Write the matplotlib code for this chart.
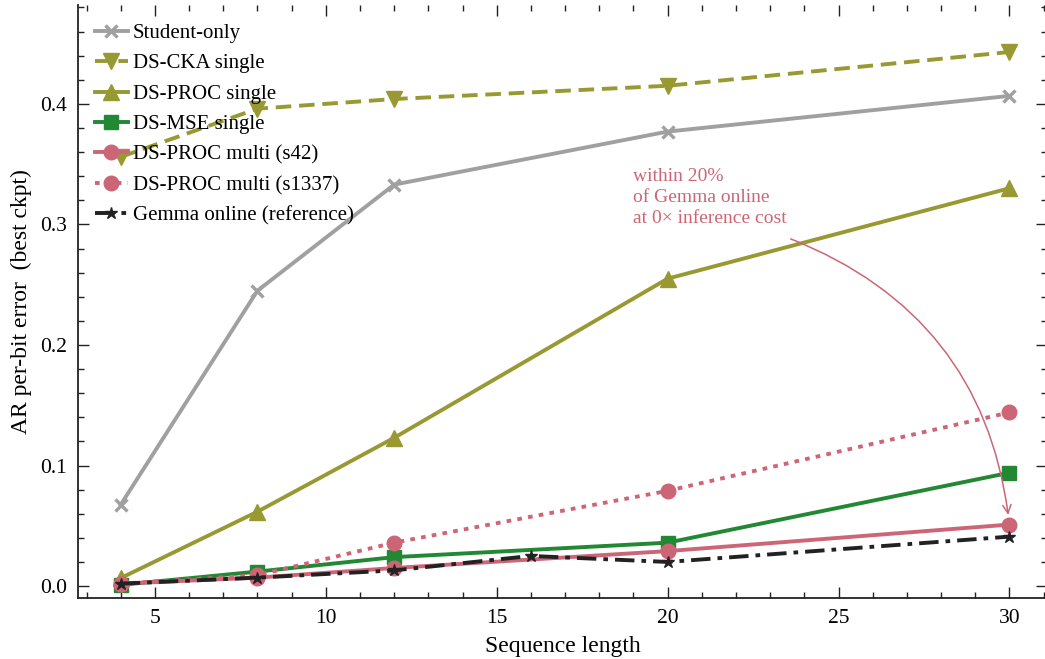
import matplotlib
matplotlib.use("Agg")
import matplotlib.pyplot as plt
from matplotlib.ticker import MultipleLocator

plt.rcParams['font.family'] = ['Liberation Serif', 'DejaVu Serif']
plt.rcParams['mathtext.fontset'] = 'stix'

x_main = [4, 8, 12, 20, 30]
x_gemma = [4, 8, 12, 16, 20, 30]
student_only = [0.0675, 0.245, 0.333, 0.377, 0.4066]
ds_cka = [0.356, 0.396, 0.404, 0.415, 0.443]
ds_proc = [0.0066, 0.0617, 0.123, 0.255, 0.330]
ds_mse = [0.001, 0.012, 0.024, 0.036, 0.094]
proc_s42 = [0.002, 0.007, 0.015, 0.029, 0.051]
proc_s1337 = [0.002, 0.009, 0.036, 0.079, 0.144]
gemma = [0.002, 0.007, 0.013, 0.025, 0.020, 0.041]

GRAY = '#a0a0a0'
OLIVE = '#999933'
GREEN = '#228833'
ROSE = '#cc6677'
BLACK = '#222222'

fig = plt.figure(figsize=(10.45, 6.59), dpi=100)
ax = fig.add_axes([78/1045, 61/659, (1047-78)/1045, (598-5)/659])

lw = 2.8
ax.plot(x_main, student_only, color=GRAY, lw=lw, marker='x', ms=8, mew=2.4, label='Student-only')
ax.plot(x_main, ds_cka, color=OLIVE, lw=lw, ls='--', dashes=(4, 2), marker='v', ms=11, label='DS-CKA single')
ax.plot(x_main, ds_proc, color=OLIVE, lw=lw, marker='^', ms=11, label='DS-PROC single')
ax.plot(x_main, ds_mse, color=GREEN, lw=lw, marker='s', ms=9.5, label='DS-MSE single')
ax.plot(x_main, proc_s42, color=ROSE, lw=lw, marker='o', ms=10.5, label='DS-PROC multi (s42)')
ax.plot(x_main, proc_s1337, color=ROSE, lw=lw, ls=':', dashes=(1.2, 1.6), marker='o', ms=10.5, label='DS-PROC multi (s1337)')
ax.plot(x_gemma, gemma, color=BLACK, lw=lw, ls='-.', dashes=(5, 1.8, 1.2, 1.8), marker='*', ms=9, label='Gemma online (reference)')

ax.set_xlim(2.75, 31.1)
ax.set_ylim(-0.0099, 0.482)
ax.xaxis.set_major_locator(MultipleLocator(5))
ax.xaxis.set_minor_locator(MultipleLocator(1))
ax.yaxis.set_major_locator(MultipleLocator(0.1))
ax.yaxis.set_minor_locator(MultipleLocator(0.02))
ax.tick_params(which='both', direction='in', top=True, right=True, labelsize=15.5, width=1.0, color='#222222')
ax.tick_params(which='major', length=8, pad=8)
ax.tick_params(which='minor', length=4)
ax.spines['top'].set_visible(False)
ax.spines['right'].set_visible(False)
for s in ('left', 'bottom'):
    ax.spines[s].set_linewidth(1.3)
    ax.spines[s].set_color('#222222')

ax.set_xlabel('Sequence length', fontsize=17, labelpad=6)
ax.set_ylabel('AR per-bit error  (best ckpt)', fontsize=17, labelpad=6)

leg = ax.legend(loc='upper left', frameon=False, fontsize=15, handlelength=1.55,
                handletextpad=0.25, labelspacing=0.52, borderaxespad=0.2,
                bbox_to_anchor=(0.005, 0.99))

ax.text(19.0, 0.347, 'within 20%\nof Gemma online\nat 0× inference cost', color=ROSE,
        fontsize=14, ha='left', va='top', linespacing=1.32)
ax.annotate('', xy=(30, 0.051), xytext=(23.6, 0.288),
            arrowprops=dict(arrowstyle='->,head_length=0.6,head_width=0.3', color=ROSE, lw=1.1,
                            connectionstyle='arc3,rad=-0.3', shrinkA=0, shrinkB=7))

fig.savefig('out.png', dpi=100)
